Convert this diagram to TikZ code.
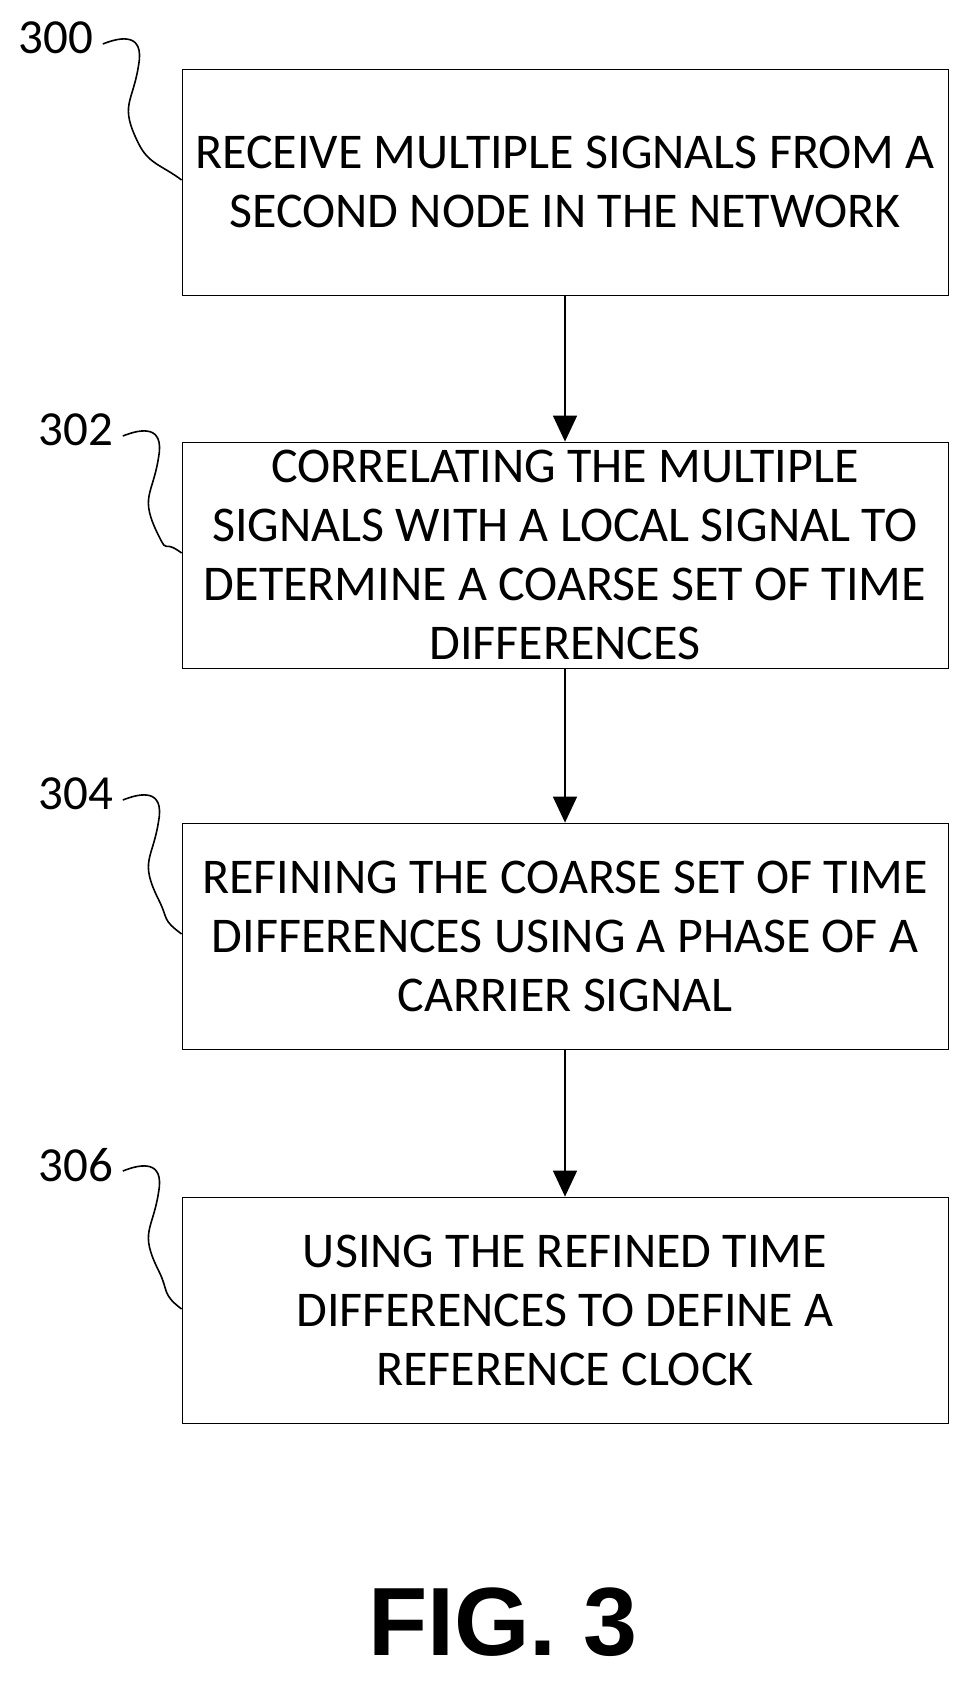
\documentclass[tikz,border=0pt]{standalone}
\usetikzlibrary{arrows.meta}
\usepackage{fontspec}
\setmainfont{Carlito}
\newfontfamily\figfont{Liberation Sans}
\begin{document}
\begin{tikzpicture}[x=1pt,y=-1pt,
 box/.style={draw,line width=0.8pt,minimum width=766pt,minimum height=226pt,align=center,font=\fontsize{50}{59}\selectfont},
 lab/.style={font=\fontsize{49}{55}\selectfont},
 arr/.style={line width=1.6pt,-{Triangle[length=26pt,width=24pt]}},
 sq/.style={line width=1.6pt}]
\useasboundingbox (0,0) rectangle (969,1688);
\node[box] (b1) at (565,182) {RECEIVE MULTIPLE SIGNALS FROM A\\SECOND NODE IN THE NETWORK};
\node[box] (b2) at (565,555) {CORRELATING THE MULTIPLE\\SIGNALS WITH A LOCAL SIGNAL TO\\DETERMINE A COARSE SET OF TIME\\DIFFERENCES};
\node[box] (b3) at (565,936) {REFINING THE COARSE SET OF TIME\\DIFFERENCES USING A PHASE OF A\\CARRIER SIGNAL};
\node[box] (b4) at (565,1310) {USING THE REFINED TIME\\DIFFERENCES TO DEFINE A\\REFERENCE CLOCK};
\draw[arr] (b1) -- (b2);
\draw[arr] (b2) -- (b3);
\draw[arr] (b3) -- (b4);
\node[lab] (l0) at (56,38) {300};
\node[lab] (l1) at (76,430) {302};
\node[lab] (l2) at (76,794) {304};
\node[lab] (l3) at (76,1165) {306};
\foreach \l/\b/\y in {l0/b1/180, l1/b2/553, l2/b3/934, l3/b4/1309}{
 \draw[sq] ([xshift=6pt,yshift=-6pt]\l.east) .. controls +(20,-8) and +(5,-30) .. ++(36,20)
   .. controls +(-6,40) and +(-20,-40) .. ++(0,80)
   .. controls +(10,20) and +(-20,-15) .. (\b.west |- 0,\y);
}
\node[font=\figfont\bfseries\fontsize{97}{110}\selectfont] (fig) at (503,1622) {FIG. 3};
\end{tikzpicture}
\end{document}
